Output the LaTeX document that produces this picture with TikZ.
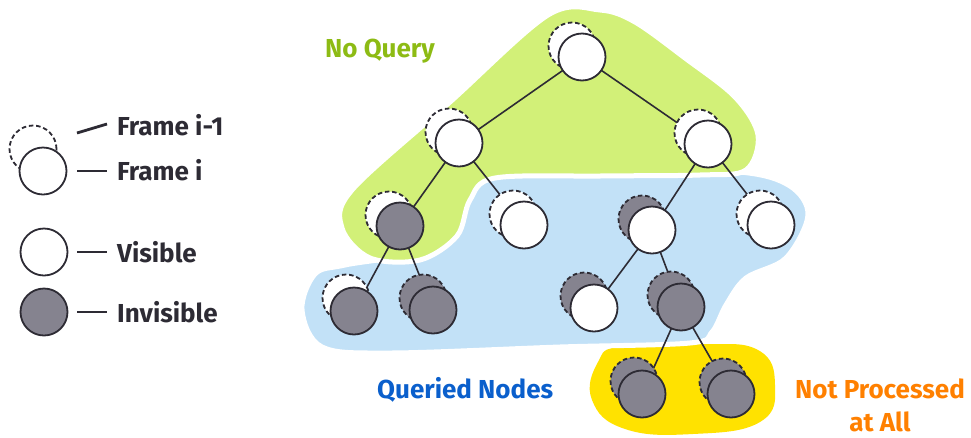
\documentclass[tikz,border=0pt]{standalone}
\usepackage{fontspec}
\setmainfont{Fira Sans}
\usetikzlibrary{calc}
\definecolor{ink}{RGB}{45,43,52}
\definecolor{hidden}{RGB}{133,131,143}
\definecolor{lime}{RGB}{210,240,120}
\definecolor{sky}{RGB}{194,225,247}
\definecolor{sun}{RGB}{255,226,0}
\definecolor{limetext}{RGB}{141,187,20}
\definecolor{skytext}{RGB}{10,95,204}
\definecolor{suntext}{RGB}{255,128,0}
\pgfdeclarelayer{blobs}
\pgfdeclarelayer{links}
\pgfsetlayers{blobs,links,main}
\tikzset{
  cur/.style={circle, draw=ink, line width=1.8pt, minimum size=47pt, inner sep=0pt},
  vis/.style={cur, fill=white},
  inv/.style={cur, fill=hidden},
  oldvis/.style={vis, dash pattern=on 4.5pt off 2.8pt},
  oldinv/.style={inv, dash pattern=on 4.5pt off 2.8pt},
  link/.style={draw=ink, line width=1.6pt},
  keyline/.style={draw=ink, line width=2.8pt},
  keytext/.style={anchor=base west, font=\bfseries\fontsize{26}{30}\selectfont, text=ink, inner sep=0pt},
  tag/.style={font=\bfseries\fontsize{26}{30}\selectfont, inner sep=0pt},
  blob/.style={draw=white, line width=5pt, line join=round}
}
\begin{document}
\begin{tikzpicture}[x=1pt,y=-1pt]
\useasboundingbox (0,0) rectangle (971,437);

% ---------- regions ----------
\begin{pgfonlayer}{blobs}
\fill[sun] plot[smooth cycle, tension=0.75] coordinates
  {(622,346) (700,344) (758,350) (775,385) (760,422) (693,434) (625,429) (592,400) (598,362)};
\filldraw[fill=sky, blob] plot[smooth cycle, tension=0.55] coordinates
  {(490,170) (620,170) (740,172) (790,186) (808,215) (786,258) (746,278) (726,305) (712,332) (690,343) (560,347) (390,353) (322,347) (302,310) (315,274) (345,265) (420,250) (455,210)};
\filldraw[fill=lime, blob] plot[smooth cycle, tension=0.55] coordinates
  {(548,15) (600,10) (635,22) (685,58) (735,97) (758,135) (746,170) (700,175) (600,176) (495,178) (470,200) (457,236) (420,260) (370,258) (342,228) (352,190) (450,102)};
\end{pgfonlayer}

% ---------- tree: previous frame (dashed) then current frame ----------
\node[oldvis] (rp)    at (572,46)  {};  \node[vis] (r)    at (582,57)  {};
\node[oldvis] (ap)    at (449,132) {};  \node[vis] (a)    at (459,143) {};
\node[oldvis] (bp)    at (698,133) {};  \node[vis] (b)    at (708,144) {};
\node[oldvis] (aap)   at (389,215) {};  \node[inv] (aa)   at (400,226) {};
\node[oldvis] (abp)   at (513,214) {};  \node[vis] (ab)   at (524,225) {};
\node[oldinv] (bap)   at (642,219) {};  \node[vis] (ba)   at (652,230) {};
\node[oldvis] (bbp)   at (760,214) {};  \node[vis] (bb)   at (771,225) {};
\node[oldvis] (aaap)  at (346,298) {};  \node[inv] (aaa)  at (354,311) {};
\node[oldinv] (aabp)  at (423,298) {};  \node[inv] (aab)  at (433,310) {};
\node[oldinv] (baap)  at (584,296) {};  \node[vis] (baa)  at (594,308) {};
\node[oldinv] (babp)  at (671,295) {};  \node[inv] (bab)  at (681,307) {};
\node[oldinv] (babap) at (634,381) {};  \node[inv] (baba) at (642,394) {};
\node[oldinv] (babbp) at (723,382) {};  \node[inv] (babb) at (731,394) {};

\begin{pgfonlayer}{links}
\draw[link] (r.center) -- (a.center);
\draw[link] (r.center) -- (b.center);
\draw[link] (a.center) -- (aa.center);
\draw[link] (a.center) -- (ab.center);
\draw[link] (b.center) -- (ba.center);
\draw[link] (b.center) -- (bb.center);
\draw[link] (aa.center) -- (aaa.center);
\draw[link] (aa.center) -- (aab.center);
\draw[link] (ba.center) -- (baa.center);
\draw[link] (ba.center) -- (bab.center);
\draw[link] (bab.center) -- (baba.center);
\draw[link] (bab.center) -- (babb.center);
\end{pgfonlayer}

% ---------- region labels ----------
\node[tag, text=limetext, anchor=base west] (tq) at (325,57) {No Query};
\node[tag, text=skytext, anchor=base west] (tn) at (377,398) {Queried Nodes};
\node[tag, text=suntext, anchor=base] (tp1) at (880,398) {Not Processed};
\node[tag, text=suntext, anchor=base] (tp2) at (880,431) {at All};

% ---------- legend ----------
\node[oldvis] (kold) at (33,149) {};
\node[vis]    (knew) at (43,171) {};
\node[vis]    (kvis) at (44,252) {};
\node[inv]    (kinv) at (44,312) {};

\node[keytext] (lold) at (117,135) {Frame i-1};
\node[keytext] (lnew) at (117,180) {Frame i};
\node[keytext] (lvis) at (117,262) {Visible};
\node[keytext] (linv) at (117,322) {Invisible};

\coordinate (o1) at (77,133);  \coordinate (o2) at (107,124);
\coordinate (n1) at (77,171);  \coordinate (n2) at (107,171);
\coordinate (v1) at (77,252);  \coordinate (v2) at (107,252);
\coordinate (i1) at (77,312);  \coordinate (i2) at (107,312);
\draw[keyline] (o1) -- (o2);
\draw[keyline] (n1) -- (n2);
\draw[keyline] (v1) -- (v2);
\draw[keyline] (i1) -- (i2);
\end{tikzpicture}
\end{document}
